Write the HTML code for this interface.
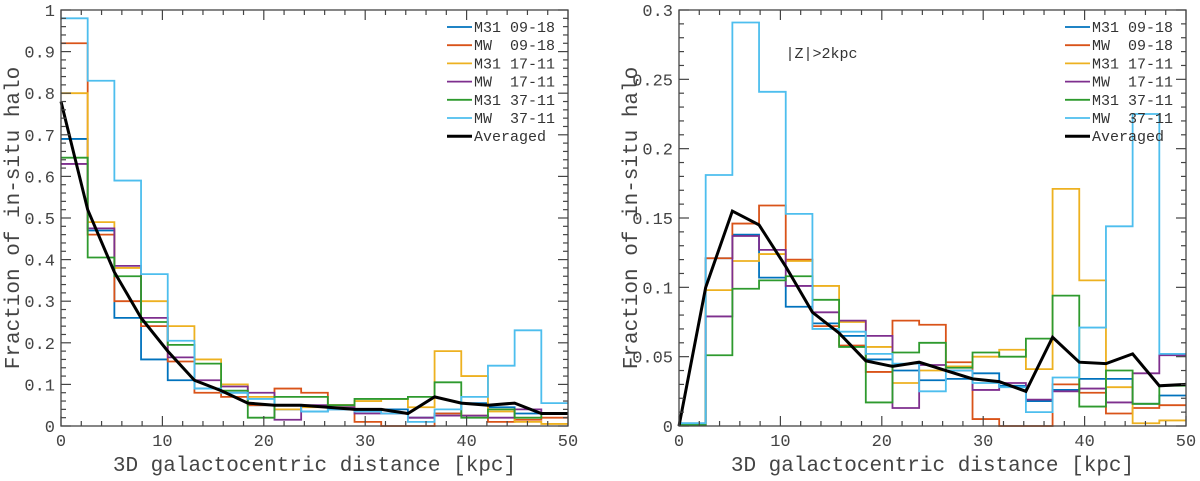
<!DOCTYPE html>
<html><head><meta charset="utf-8"><style>
html,body{margin:0;padding:0;background:#fff}
svg text{font-family:"Liberation Mono",monospace;fill:#444}
</style></head><body>
<svg id="c" width="1200" height="476" xmlns="http://www.w3.org/2000/svg"></svg>
<script>
const names=["M31 09-18","MW  09-18","M31 17-11","MW  17-11","M31 37-11","MW  37-11"];
const colors=["#0072BD","#D95319","#EDB120","#7E2F8E","#2E9A2E","#4DBEEE"];
const binWidth=50/19;
const leftSeries=[
[0.69,0.47,0.26,0.16,0.11,0.09,0.08,0.05,0.04,0.035,0.04,0.04,0.04,0.02,0.03,0.055,0.045,0.03,0.03],
[0.92,0.46,0.30,0.24,0.155,0.08,0.07,0.05,0.09,0.08,0.05,0.01,0.0,0.0,0.03,0.025,0.01,0.015,0.02],
[0.80,0.49,0.38,0.30,0.24,0.16,0.10,0.07,0.04,0.045,0.05,0.06,0.065,0.045,0.18,0.12,0.035,0.01,0.005],
[0.63,0.475,0.385,0.26,0.165,0.11,0.095,0.08,0.015,0.05,0.045,0.03,0.03,0.02,0.025,0.025,0.02,0.04,0.03],
[0.645,0.405,0.36,0.25,0.195,0.15,0.085,0.02,0.07,0.07,0.05,0.065,0.065,0.07,0.105,0.02,0.04,0.02,0.03],
[0.98,0.83,0.59,0.365,0.205,0.09,0.08,0.065,0.05,0.035,0.04,0.035,0.03,0.01,0.04,0.07,0.145,0.23,0.055]];
const leftAvg=[0.78,0.52,0.37,0.26,0.18,0.11,0.085,0.055,0.05,0.05,0.045,0.04,0.04,0.03,0.07,0.055,0.05,0.055,0.03,0.03];
const rightSeries=[
[0.002,0.121,0.138,0.107,0.086,0.074,0.065,0.048,0.040,0.033,0.034,0.038,0.029,0.018,0.026,0.034,0.034,0.016,0.022],
[0.001,0.121,0.146,0.159,0.120,0.072,0.058,0.039,0.076,0.073,0.046,0.005,0.0,0.0,0.030,0.024,0.009,0.013,0.015],
[0.001,0.098,0.119,0.124,0.119,0.101,0.075,0.057,0.031,0.040,0.043,0.050,0.055,0.041,0.171,0.105,0.028,0.002,0.004],
[0.001,0.079,0.137,0.127,0.101,0.082,0.076,0.065,0.013,0.044,0.040,0.026,0.031,0.019,0.025,0.027,0.017,0.038,0.051],
[0.001,0.051,0.099,0.105,0.108,0.091,0.057,0.017,0.053,0.060,0.042,0.053,0.050,0.063,0.094,0.014,0.040,0.016,0.029],
[0.002,0.181,0.291,0.241,0.153,0.070,0.068,0.052,0.045,0.025,0.040,0.031,0.028,0.010,0.035,0.071,0.144,0.225,0.052]];
const rightAvg=[0,0.1,0.155,0.145,0.115,0.082,0.067,0.047,0.043,0.046,0.040,0.034,0.032,0.025,0.064,0.046,0.045,0.052,0.029,0.030];
const xTicks=[0,10,20,30,40,50];
const leftYTicks=["0","0.1","0.2","0.3","0.4","0.5","0.6","0.7","0.8","0.9","1"];
const rightYTicks=["0","0.05","0.1","0.15","0.2","0.25","0.3"];

const svg=document.getElementById('c');
const NS="http://www.w3.org/2000/svg";
function mk(tag,attrs,parent){const e=document.createElementNS(NS,tag);for(const k in attrs)e.setAttribute(k,attrs[k]);(parent||svg).appendChild(e);return e;}

function panel(px,ymax,yTicks,minorY,series,avg,prefix,legX,note,titleX){
  const L=px,R=px+507,T=10,B=426;
  const g=mk('g',{});
  
  
  const sx=v=>L+(v/50)*(R-L), sy=v=>B-(v/ymax)*(B-T);
  series.forEach((vals,si)=>{
    let d="M"+sx(0)+","+sy(vals[0]);
    vals.forEach((v,i)=>{const x0=sx(i*binWidth),x1=sx((i+1)*binWidth);d+=" L"+x0+","+sy(v)+" L"+x1+","+sy(v);if(i<vals.length-1)d+=" L"+x1+","+sy(vals[i+1]);});
    const p=mk('path',{d:d,fill:'none',stroke:colors[si],'stroke-width':1.8},g);
    
    
  });
  let d="";avg.forEach((v,i)=>{d+=(i?" L":"M")+sx(i*binWidth)+","+sy(v);});
  const ap=mk('path',{d:d,fill:'none',stroke:'#000','stroke-width':3},g);
  
  
  const fr=mk('rect',{x:L,y:T,width:R-L,height:B-T,fill:'none',stroke:'#444','stroke-width':1.3},g);
  
  
  for(let v=0;v<=50;v+=2){const x=sx(v),len=(v%10===0)?10:5;
    mk('line',{x1:x,y1:B,x2:x,y2:B-len,stroke:'#444','stroke-width':1.2},g);
    mk('line',{x1:x,y1:T,x2:x,y2:T+len,stroke:'#444','stroke-width':1.2},g);}
  xTicks.forEach(v=>{const t=mk('text',{x:sx(v),y:B+20,'text-anchor':'middle','font-size':17},g);t.textContent=v;
    });
  const nMinor=Math.round(ymax/minorY);
  for(let i=0;i<=nMinor;i++){const v=i*minorY,y=sy(v),len=(i%5===0)?10:5;
    mk('line',{x1:L,y1:y,x2:L+len,y2:y,stroke:'#444','stroke-width':1.2},g);
    mk('line',{x1:R,y1:y,x2:R-len,y2:y,stroke:'#444','stroke-width':1.2},g);}
  yTicks.forEach(s=>{const t=mk('text',{x:L-6,y:sy(parseFloat(s))+6,'text-anchor':'end','font-size':17},g);t.textContent=s;
    });
  const xt=mk('text',{x:(L+R)/2,y:471,'text-anchor':'middle','font-size':21},g);xt.textContent="3D galactocentric distance [kpc]";
  
  const yt=mk('text',{x:0,y:0,'text-anchor':'middle','font-size':21,transform:'translate('+titleX+','+((T+B)/2)+') rotate(-90)'},g);yt.textContent="Fraction of in-situ halo";
  
  const lg=mk('g',{},g);
  const labels=names.concat(["Averaged"]);const cols=colors.concat(["#000"]);
  labels.forEach((n,i)=>{const y=27+i*18.2;
    const e=mk('g',{},lg);
    mk('line',{x1:legX,y1:y,x2:legX+25,y2:y,stroke:cols[i],'stroke-width':i===6?3:1.8},e);
    const t=mk('text',{x:legX+27,y:y+5,'font-size':15,style:'white-space:pre;fill:#333'},e);t.textContent=n;});
  if(note){const t=mk('text',{x:sx(note[0]),y:note[1],'font-size':15,style:'fill:#333'},g);t.textContent=note[2];
    }
}
panel(61,1,leftYTicks,0.02,leftSeries,leftAvg,'left',447,null,19);
panel(679,0.3,rightYTicks,0.01,rightSeries,rightAvg,'right',1065,[10.5,58,'|Z|>2kpc'],637);
</script>
</body></html>
